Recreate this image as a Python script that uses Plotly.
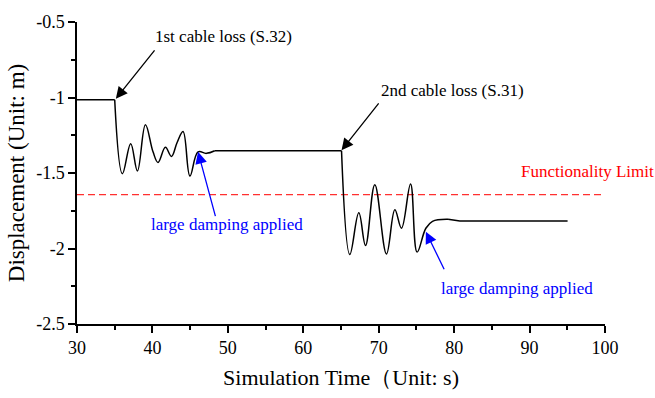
import plotly.graph_objects as go

# Midspan displacement history after the two cable-loss events
time_s = [30.0, 35.0, 36.02, 37.12, 38.01, 39.07, 40.08, 40.74, 41.72, 42.52,
          43.26, 44.06, 44.97, 46.05, 47.16, 48.26, 65.07, 66.17, 67.36, 68.25,
          69.48, 71.03, 72.14, 73.02, 74.22, 75.09, 76.25, 77.13, 79.2, 80.75, 95.04]
displacement_m = [-1.015, -1.015, -1.505, -1.306, -1.487, -1.18, -1.36, -1.43, -1.33, -1.39,
                  -1.30, -1.225, -1.52, -1.36, -1.37, -1.353, -1.353, -2.04, -1.764, -1.98,
                  -1.577, -2.036, -1.743, -1.866, -1.573, -2.024, -1.866, -1.82, -1.807, -1.818, -1.818]

limit_x = [30, 100]
limit_y = [-1.643, -1.643]

x_ticks = [30, 40, 50, 60, 70, 80, 90, 100]
y_ticks = [-0.5, -1, -1.5, -2, -2.5]
y_tick_text = ["-0.5", "-1", "-1.5", "-2", "-2.5"]

# (tip_x, tip_y, tail_x, tail_y, colour)
arrows = [
    (35.15, -1.008, 40.44, -0.678, "black"),
    (65.07, -1.349, 70.15, -1.029, "black"),
    (46.05, -1.360, 48.40, -1.796, "#0000FF"),
    (76.25, -1.889, 78.77, -2.147, "#0000FF"),
]
# (text, x, y, colour) - left-anchored labels
labels = [
    ("1st cable loss (S.32)", 40.08, -0.593, "black"),
    ("2nd cable loss (S.31)", 70.01, -0.955, "black"),
    ("large damping applied", 39.55, -1.839, "#0000FF"),
    ("large damping applied", 78.01, -2.265, "#0000FF"),
    ("Functionality Limit", 88.62, -1.487, "#FF0000"),
]

serif = "Liberation Serif, Times New Roman, serif"

fig = go.Figure()
fig.add_trace(go.Scatter(x=limit_x, y=limit_y, mode="lines",
                         line=dict(color="#FF3030", width=1.3, dash="7px,4px"),
                         hoverinfo="skip"))

# Hold phases are straight; the free-vibration phases are smoothed
segments = [(0, 1, "linear"), (1, 15, "spline"), (15, 16, "linear"),
            (16, 28, "spline"), (28, 30, "linear")]
for i0, i1, shape in segments:
    fig.add_trace(go.Scatter(x=time_s[i0:i1 + 1], y=displacement_m[i0:i1 + 1], mode="lines",
                             line=dict(color="black", width=1.5, shape=shape,
                                       **({"smoothing": 1.1} if shape == "spline" else {}))))

for tx, ty, ax_, ay_, col in arrows:
    fig.add_annotation(x=tx, y=ty, ax=ax_, ay=ay_, xref="x", yref="y", axref="x", ayref="y",
                       text="", showarrow=True, arrowhead=2, arrowsize=1.8, arrowwidth=1.3,
                       arrowcolor=col)
for txt, x, y, col in labels:
    fig.add_annotation(x=x, y=y, xref="x", yref="y", text=txt, showarrow=False,
                       xanchor="left", yanchor="middle",
                       font=dict(family=serif, size=17, color=col))

axis_common = dict(showline=True, linecolor="black", linewidth=1.5, showgrid=False,
                   zeroline=False, ticks="outside", ticklen=7, tickwidth=1.5,
                   tickcolor="black", mirror=False,
                   tickfont=dict(family=serif, size=18, color="black"))

fig.update_xaxes(range=[30, 100], tickvals=x_ticks,
                 minor=dict(dtick=5, ticks="outside", ticklen=4, tickwidth=1.5, tickcolor="black"),
                 title=dict(text="Simulation Time（Unit: s)", standoff=12,
                            font=dict(family=serif, size=22, color="black")),
                 **axis_common)
fig.update_yaxes(range=[-2.5, -0.5], tickvals=y_ticks, ticktext=y_tick_text,
                 minor=dict(dtick=0.25, ticks="outside", ticklen=4, tickwidth=1.5, tickcolor="black"),
                 title=dict(text="Displacement (Unit: m)", standoff=5,
                            font=dict(family=serif, size=23, color="black")),
                 **axis_common)

fig.update_layout(width=655, height=398, margin=dict(l=77, r=50, t=15, b=69),
                  plot_bgcolor="white", paper_bgcolor="white", showlegend=False)

fig.write_html("out.html")
